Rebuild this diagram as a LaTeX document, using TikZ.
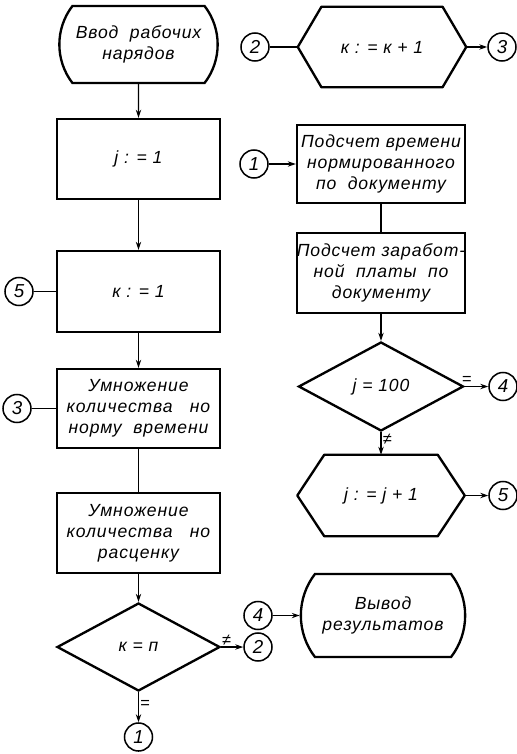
\documentclass[tikz,border=0pt]{standalone}
\usepackage{fontspec}
\setmainfont{Liberation Sans}[LetterSpace=5]
\usetikzlibrary{shapes.geometric,shapes.misc,arrows.meta}
\begin{document}
\begin{tikzpicture}[x=0.3mm,y=-0.3mm,
		font=\itshape\fontsize{15}{18}\selectfont,
		block/.style={draw,line width=2pt,inner sep=2pt,align=center},
		box/.style={block,rectangle,minimum width=48.9mm,minimum height=24mm},
		term/.style={block,rounded rectangle,rounded rectangle arc length=75,minimum width=48.9mm,minimum height=23.1mm},
		hexa/.style={rectangle,inner sep=2pt,minimum width=50.4mm,minimum height=24mm},
		cond/.style={block,diamond,minimum width=48.9mm,minimum height=26.4mm,inner sep=0pt},
		conn/.style={draw,circle,line width=1.3pt,minimum size=8.4mm,inner sep=0pt,font=\itshape\fontsize{16}{18}\selectfont},
		lab/.style={font=\fontsize{14}{16}\selectfont,inner sep=1pt},
		link/.style={line width=1.1pt},
		flow/.style={link,-{Stealth[length=2.4mm,width=1.6mm]}}]
		\useasboundingbox(0,0)rectangle(516,754);
		% left column
		\node[term](in)at(138.5,44.5){Ввод\ \ рабочих\\нарядов};
		\node[box](j1)at(138.5,159){j : = 1};
		\node[box,minimum height=24.3mm](k1)at(138.5,291.5){к : = 1};
		\node[box,minimum height=23.7mm](m1)at(138.5,408.5){Умножение\\количества\ \ \ но\\норму\ \ времени};
		\node[box](m2)at(138.5,533){Умножение\\количества\ \ \ но\\расценку};
		\node[cond](kn)at(138.5,647){к = п};
		\node[conn](c5l)at(19,291.5){5};
		\node[conn](c3l)at(17,408.5){3};
		\node[conn](c1b)at(138.5,737){1};
		% right column
		\node[conn](c2t)at(255,47){2};
		\node[hexa](kinc)at(382,47){к : = к + 1};
		\node[conn](c3t)at(502,47){3};
		\node[conn](c1r)at(254,164){1};
		\node[box,minimum width=50.4mm,minimum height=23.4mm,inner sep=0pt](p1)at(381,164){Подсчет времени\\нормированного\\по\ \ документу};
		\node[box,minimum width=50.4mm,inner sep=0pt](p2)at(381,273){Подсчет заработ-\\ной\ \ платы\ \ по\\документу};
		\node[cond,minimum width=49.5mm,minimum height=26.7mm](jh)at(381,386.5){j = 100};
		\node[conn](c4r)at(503,386.5){4};
		\node[hexa,minimum width=50.1mm,minimum height=24.3mm](jinc)at(381,495.5){j : = j + 1};
		\node[conn](c5r)at(503,495.5){5};
		\node[term,minimum width=50.7mm,minimum height=24.9mm](out)at(383,615.5){Вывод\\результатов};
		\node[conn](c4m)at(258,615.5){4};
		\node[conn](c2m)at(258,647){2};
		\foreach \h/\c in {kinc/7.1mm,jinc/8.1mm}
			\draw[line width=2pt,line join=round]([xshift=\c]\h.north west)--([xshift=-\c]\h.north east)--(\h.east)--([xshift=-\c]\h.south east)--([xshift=\c]\h.south west)--(\h.west)--cycle;
		% connectors
		\draw[flow](in)--(j1);
		\draw[flow](j1)--(k1);
		\draw[link](c5l)--(k1);
		\draw[flow](k1)--(m1);
		\draw[link](c3l)--(m1);
		\draw[link](m1)--(m2);
		\draw[flow](m2)--(kn);
		\draw[flow](kn.east)--node[lab,above,pos=.25]{≠}(c2m);
		\draw[flow](kn.south)--node[lab,right,pos=.4]{=}(c1b);
		\draw[link](c2t)--(kinc.west);
		\draw[flow](kinc.east)--(c3t);
		\draw[flow](c1r)--(p1);
		\draw[link](p1)--(p2);
		\draw[flow](p2)--(jh);
		\draw[flow](jh.east)--node[lab,above,pos=.1]{=}(c4r);
		\draw[flow](jh.south)--node[lab,right,pos=.3]{≠}(jinc);
		\draw[flow](jinc.east)--(c5r);
		\draw[flow](c4m)--(out);
	\end{tikzpicture}
\end{document}
